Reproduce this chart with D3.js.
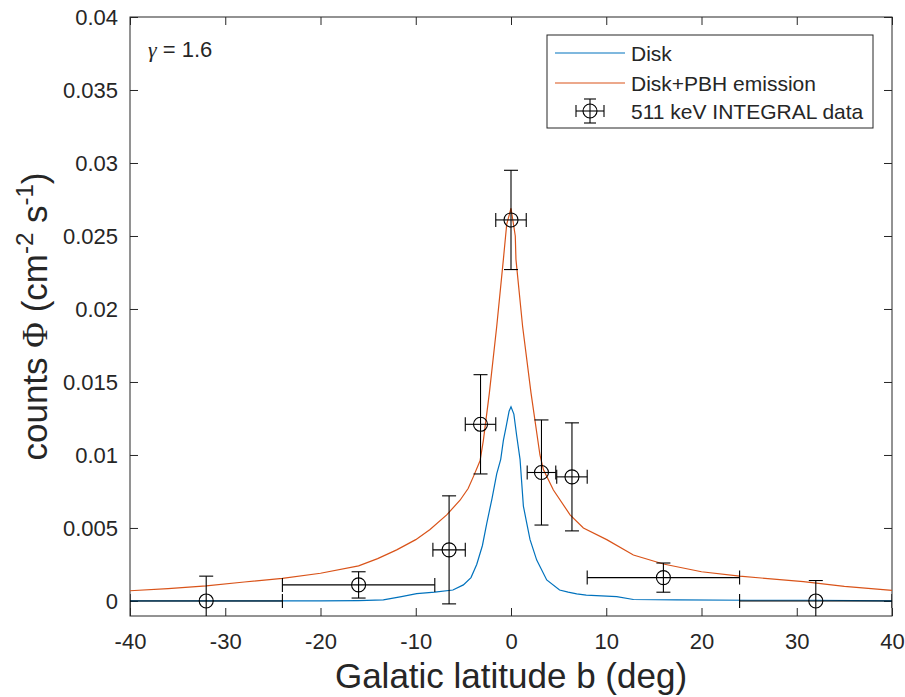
<!DOCTYPE html>
<html lang="en">
<head>
    <title>511 keV latitude profile</title>
    <script src="https://d3js.org/d3.v7.min.js"></script>
    <style>
        body { margin: 0; background: #fff; }
        text { font-family: "Liberation Sans", Arial, Helvetica, sans-serif; fill: #262626; }
        .axis path, .axis line { stroke: #262626; }
    </style>
</head>
<body>

<script>
    // Disk only model (blue)
    const diskB = [-40, -30, -20, -16, -13.4, -11.5, -9.9, -8, -6.1, -5.0, -4.2, -3.6, -3.0, -2.55, -2.0, -1.5, -1.08, -0.8, -0.52, -0.2, 0,
                   0.3, 0.6, 0.95, 1.3, 1.6, 2.0, 2.7, 3.75, 5.1, 6.0, 6.9, 7.9, 11.1, 12.85, 17.4, 25, 32, 40];
    const diskPhi = [0.00000, 0.00000, 0.00000, 0.00002, 0.00007, 0.00030, 0.00050, 0.00060, 0.00075, 0.00110, 0.00160, 0.00250, 0.00380, 0.00530, 0.00700, 0.00870, 0.00970, 0.01100, 0.01190, 0.01300, 0.01330,
                     0.01280, 0.01130, 0.00970, 0.00650, 0.00550, 0.00420, 0.00280, 0.00144, 0.00075, 0.00060, 0.00048, 0.00040, 0.00030, 0.00010, 0.00007, 0.00005, 0.00005, 0.00000];

    // Disk + PBH emission (orange)
    const pbhB = [-40, -36, -32, -28, -24, -20, -16, -14, -12, -10, -8.5, -6.75, -5.35, -4.5, -3.96, -3.25, -2.9, -2.27, -1.5, -0.8, -0.45, 0,
                  0.45, 0.52, 1.22, 2.1, 3.04, 3.4, 4.45, 6.2, 7.6, 10.05, 12.85, 16, 20, 24, 30.7, 35, 40];
    const pbhPhi = [0.00070, 0.00085, 0.00103, 0.00130, 0.00155, 0.00190, 0.00240, 0.00290, 0.00350, 0.00420, 0.00490, 0.00590, 0.00690, 0.00770, 0.00850, 0.00960, 0.01100, 0.01425, 0.01880, 0.02340, 0.02580, 0.02690,
                    0.02500, 0.02340, 0.01880, 0.01425, 0.01000, 0.00900, 0.00760, 0.00590, 0.00500, 0.00420, 0.00315, 0.00253, 0.00200, 0.00170, 0.00132, 0.00100, 0.00073];

    // 511 keV INTEGRAL data
    const dataB = [-32, -16, -6.5, -3.2, 0, 3.2, 6.4, 16, 32];
    const dataPhi = [0, 0.0011, 0.0035, 0.0121, 0.0261, 0.0088, 0.0085, 0.0016, 0];
    const dataErrPhi = [0.0017, 0.0009, 0.0037, 0.0034, 0.0034, 0.0036, 0.0037, 0.0010, 0.0014];
    const dataErrB = [8, 8, 1.7, 1.6, 1.6, 1.5, 1.6, 8, 8];

    const xTicks = [-40, -30, -20, -10, 0, 10, 20, 30, 40];
    const yTicks = [0, 0.005, 0.01, 0.015, 0.02, 0.025, 0.03, 0.035, 0.04];
    const seriesNames = ["Disk", "Disk+PBH emission", "511 keV INTEGRAL data"];

    const W = 905, H = 697;
    const mLeft = 130, mRight = 892, mTop = 17, mBottom = 616;

    const x = d3.scaleLinear().domain([-40, 40]).range([mLeft, mRight]);
    const y = d3.scaleLinear().domain([-0.00103, 0.04]).range([mBottom, mTop]);

    const svg = d3.select("body").append("svg").attr("width", W).attr("height", H);

    svg.append("defs").append("clipPath").attr("id", "clip")
        .append("rect").attr("x", mLeft).attr("y", mTop).attr("width", mRight - mLeft).attr("height", mBottom - mTop);

    // axes
    const tickLen = 8;
    svg.append("g").attr("class", "axis").attr("transform", `translate(0,${mBottom})`)
        .call(d3.axisBottom(x).tickValues(xTicks).tickSizeInner(-tickLen).tickSizeOuter(0).tickPadding(17).tickFormat(d => String(d)))
        .call(g => g.selectAll("text").attr("font-size", 22).attr("font-family", "Liberation Sans, Arial, sans-serif").attr("fill", "#262626"));
    svg.append("g").attr("class", "axis").attr("transform", `translate(0,${mTop})`)
        .call(d3.axisTop(x).tickValues(xTicks).tickSizeInner(-tickLen).tickSizeOuter(0).tickFormat(""));
    svg.append("g").attr("class", "axis").attr("transform", `translate(${mLeft},0)`)
        .call(d3.axisLeft(y).tickValues(yTicks).tickSizeInner(-tickLen).tickSizeOuter(0).tickPadding(12).tickFormat(d => d === 0 ? "0" : String(+d.toFixed(3))))
        .call(g => g.selectAll("text").attr("font-size", 22).attr("font-family", "Liberation Sans, Arial, sans-serif").attr("fill", "#262626"));
    svg.append("g").attr("class", "axis").attr("transform", `translate(${mRight},0)`)
        .call(d3.axisRight(y).tickValues(yTicks).tickSizeInner(-tickLen).tickSizeOuter(0).tickFormat(""));
    svg.selectAll(".axis path.domain").remove();

    // box
    svg.append("rect").attr("x", mLeft).attr("y", mTop).attr("width", mRight - mLeft).attr("height", mBottom - mTop)
        .attr("fill", "none").attr("stroke", "#262626").attr("stroke-width", 1);

    const plot = svg.append("g").attr("clip-path", "url(#clip)");

    const line = d3.line().x(d => x(d[0])).y(d => y(d[1]));

    plot.append("path").datum(d3.zip(diskB, diskPhi))
        .attr("d", line).attr("fill", "none").attr("stroke", "#0072BD").attr("stroke-width", 1.2);
    plot.append("path").datum(d3.zip(pbhB, pbhPhi))
        .attr("d", line).attr("fill", "none").attr("stroke", "#D95319").attr("stroke-width", 1.2);

    // error bars
    const pts = dataB.map((b, i) => ({ b, phi: dataPhi[i], eb: dataErrB[i], ep: dataErrPhi[i] }));
    const cap = 7;
    const eg = plot.selectAll("g.err").data(pts).enter().append("g").attr("class", "err")
        .attr("stroke", "#000").attr("stroke-width", 1.1).attr("fill", "none");
    eg.append("line").attr("x1", d => x(d.b)).attr("x2", d => x(d.b)).attr("y1", d => y(d.phi - d.ep)).attr("y2", d => y(d.phi + d.ep));
    eg.append("line").attr("x1", d => x(d.b) - cap).attr("x2", d => x(d.b) + cap).attr("y1", d => y(d.phi + d.ep)).attr("y2", d => y(d.phi + d.ep));
    eg.append("line").attr("x1", d => x(d.b) - cap).attr("x2", d => x(d.b) + cap).attr("y1", d => y(d.phi - d.ep)).attr("y2", d => y(d.phi - d.ep));
    eg.append("line").attr("x1", d => x(d.b - d.eb)).attr("x2", d => x(d.b + d.eb)).attr("y1", d => y(d.phi)).attr("y2", d => y(d.phi));
    eg.append("line").attr("x1", d => x(d.b - d.eb)).attr("x2", d => x(d.b - d.eb)).attr("y1", d => y(d.phi) - cap).attr("y2", d => y(d.phi) + cap);
    eg.append("line").attr("x1", d => x(d.b + d.eb)).attr("x2", d => x(d.b + d.eb)).attr("y1", d => y(d.phi) - cap).attr("y2", d => y(d.phi) + cap);
    eg.append("circle").attr("cx", d => x(d.b)).attr("cy", d => y(d.phi)).attr("r", 7);

    // annotation
    const ann = svg.append("text").attr("x", 148).attr("y", 57).attr("font-size", 22);
    ann.append("tspan").attr("font-family", "Liberation Serif, Times New Roman, serif").attr("font-style", "italic").text("γ");
    ann.append("tspan").text(" = 1.6");

    // legend
    const lg = svg.append("g").attr("transform", "translate(547,35)");
    lg.append("rect").attr("width", 326).attr("height", 93).attr("fill", "#fff").attr("stroke", "#262626").attr("stroke-width", 1);
    const rows = [18, 48, 76];
    const colors = ["#0072BD", "#D95319"];
    seriesNames.forEach((name, i) => {
        const ry = rows[i];
        if (i < 2) {
            lg.append("line").attr("x1", 8).attr("x2", 78).attr("y1", ry).attr("y2", ry)
                .attr("stroke", colors[i]).attr("stroke-width", 1.2);
        } else {
            const g = lg.append("g").attr("stroke", "#000").attr("stroke-width", 1.1).attr("fill", "none");
            g.append("line").attr("x1", 29).attr("x2", 57).attr("y1", ry).attr("y2", ry);
            g.append("line").attr("x1", 29).attr("x2", 29).attr("y1", ry - 6).attr("y2", ry + 6);
            g.append("line").attr("x1", 57).attr("x2", 57).attr("y1", ry - 6).attr("y2", ry + 6);
            g.append("line").attr("x1", 43).attr("x2", 43).attr("y1", ry - 12).attr("y2", ry + 12);
            g.append("line").attr("x1", 37).attr("x2", 49).attr("y1", ry - 12).attr("y2", ry - 12);
            g.append("line").attr("x1", 37).attr("x2", 49).attr("y1", ry + 12).attr("y2", ry + 12);
            g.append("circle").attr("cx", 43).attr("cy", ry).attr("r", 7);
        }
        lg.append("text").attr("x", 84).attr("y", ry).attr("dy", "0.36em").attr("font-size", 21).text(name);
    });

    // axis titles
    svg.append("text").attr("x", (mLeft + mRight) / 2).attr("y", 688).attr("text-anchor", "middle")
        .attr("font-size", 35).text("Galatic latitude b (deg)");

    const yl = svg.append("text").attr("transform", `translate(47,${(mTop + mBottom) / 2}) rotate(-90)`)
        .attr("text-anchor", "middle").attr("font-size", 35);
    yl.append("tspan").text("counts ");
    yl.append("tspan").attr("font-family", "Liberation Serif, Times New Roman, serif").text("Φ");
    yl.append("tspan").text(" (cm");
    yl.append("tspan").attr("font-size", 24).attr("dy", -14).text("-2");
    yl.append("tspan").attr("dy", 14).text(" s");
    yl.append("tspan").attr("font-size", 24).attr("dy", -14).text("-1");
    yl.append("tspan").attr("dy", 14).text(")");
</script>

</body>
</html>
